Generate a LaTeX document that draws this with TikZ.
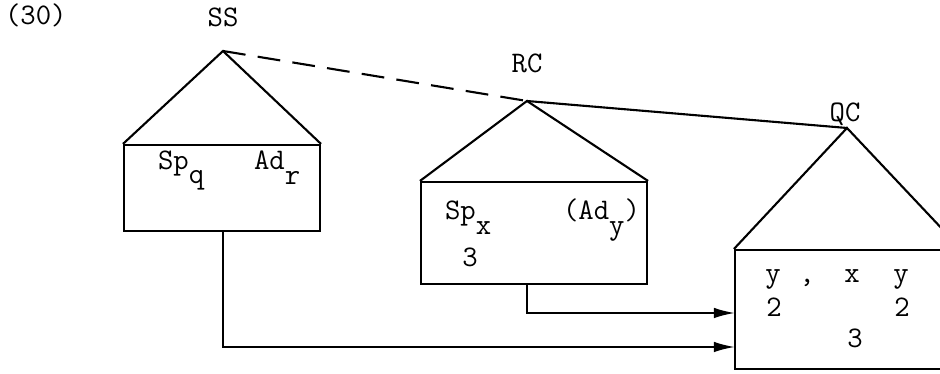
\documentclass[tikz,border=0pt]{standalone}
\usepackage{fontspec}
\usepackage{tikz}
\usetikzlibrary{arrows.meta, positioning}
\newcommand{\fuenteetiq}{\ttfamily\fontsize{17}{19}\selectfont}

\begin{document}
\begin{tikzpicture}[x=0.02cm, y=-0.02cm, line width=1.2pt,
    caja/.style={draw, inner sep=0pt},
    etiq/.style={inner sep=0pt, font=\fuenteetiq},
    flecha/.style={-{Latex[length=12pt, width=6pt]}}]
    \useasboundingbox (0,0) rectangle (940,374);
    \clip (0,0) rectangle (940,374);

    % Numero del ejemplo
    \node[etiq, anchor=base west] (num) at (4,25) {(30)};

    % Vertices
    \coordinate (sstop) at (223,51);
    \coordinate (rctop) at (527,101);
    \coordinate (qctop) at (847,128);
    \node[etiq, anchor=base] (sslab) at (223,27) {SS};
    \node[etiq, anchor=base] (rclab) at (527,73) {RC};
    \node[etiq, anchor=base] (qclab) at (845,122) {QC};

    % Cajas
    \node[caja, minimum width=3.92cm, minimum height=1.72cm] (ssbox) at (222,188) {};
    \node[caja, minimum width=4.52cm, minimum height=2.04cm] (rcbox) at (534,233) {};
    \node[caja, minimum width=4.5cm, minimum height=2.38cm] (qcbox) at (847.5,309.5) {};

    % Triangulos
    \draw (ssbox.north west) -- (sstop) -- (ssbox.north east);
    \draw (rcbox.north west) -- (rctop) -- (rcbox.north east);
    \draw (qcbox.north west) -- (qctop) -- (qcbox.north east);

    % Enlaces entre vertices
    \draw[dashed, dash pattern=on 13pt off 7pt] (sstop) -- (rctop);
    \draw (rctop) -- (qctop);

    % Contenido de SS
    \node[etiq, anchor=base west] (spq) at (157,170) {Sp\raisebox{-7.5pt}{q}};
    \node[etiq, anchor=base west] (adr) at (253,170) {Ad\raisebox{-8pt}{r}};

    % Contenido de RC
    \node[etiq, anchor=base west] (spx) at (444,220) {Sp\raisebox{-8pt}{x}};
    \node[etiq, anchor=base west] (ady) at (562,220) {(Ad\raisebox{-8pt}{y})};
    \node[etiq, anchor=base] (rctres) at (470,267) {3};

    % Contenido de QC
    \node[etiq, anchor=base] (qcya) at (773,283) {y};
    \node[etiq, anchor=base] (qccoma) at (807,283) {,};
    \node[etiq, anchor=base] (qcx) at (852,283) {x};
    \node[etiq, anchor=base] (qcyb) at (901,283) {y};
    \node[etiq, anchor=base] (qcdosa) at (774,317) {2};
    \node[etiq, anchor=base] (qcdosb) at (902,317) {2};
    \node[etiq, anchor=base] (qctres) at (855,348) {3};

    % Flechas hacia QC
    \coordinate (qcinA) at (735,313);
    \coordinate (qcinB) at (735,347);
    \draw[flecha] (rcbox.south -| rctop) |- (qcinA);
    \draw[flecha] (ssbox.south -| sstop) |- (qcinB);
\end{tikzpicture}
\end{document}
